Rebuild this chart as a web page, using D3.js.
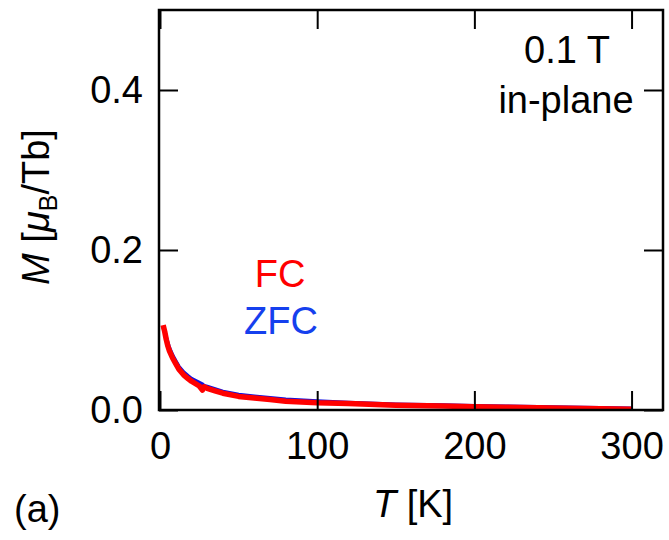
<!DOCTYPE html>
<html>
<head>
<meta charset="utf-8">
<script src="https://cdn.jsdelivr.net/npm/d3@7"></script>
<style>
  body { margin: 0; background: #fff; }
  text { font-family: "Liberation Sans", Arial, sans-serif; }
</style>
</head>
<body>
<script>
var width = 669
var height = 540
var margin = { top: 10, right: 6, bottom: 130, left: 159 }
var fontSize = 38

// temperature [K]
var temps = [2, 3, 4, 5, 6, 8, 10, 12, 15, 18, 20, 25, 27, 28, 30, 35, 40, 50, 60, 70, 80, 100, 120, 150, 180, 200, 220, 250, 280, 300]
// magnetization [muB/Tb]
var fcValues = [0.106, 0.098, 0.088, 0.080, 0.074, 0.065, 0.058, 0.051, 0.044, 0.039, 0.036, 0.030, 0.025, 0.029, 0.027, 0.024, 0.021, 0.017, 0.015, 0.013, 0.011, 0.009, 0.008, 0.006, 0.005, 0.004, 0.0035, 0.0025, 0.0015, 0.001]
var zfcValues = [0.104, 0.098, 0.090, 0.083, 0.077, 0.068, 0.061, 0.054, 0.047, 0.042, 0.039, 0.034, 0.032, 0.030, 0.029, 0.026, 0.023, 0.019, 0.017, 0.015, 0.013, 0.011, 0.009, 0.007, 0.006, 0.005, 0.0045, 0.0035, 0.0025, 0.002]

var xTicks = [0, 100, 200, 300]
var yTicks = [0.0, 0.2, 0.4]

var svg = d3.select('body').append('svg')
  .attr('width', width)
  .attr('height', height)

var x = d3.scaleLinear()
  .domain([0, 320])
  .range([160, 663])

var y = d3.scaleLinear()
  .domain([0, 0.5])
  .range([410, 10])

var line = d3.line()
  .x(d => x(d[0]))
  .y(d => y(d[1]))

// clip to plot frame
svg.append('clipPath').attr('id', 'clip')
  .append('rect')
  .attr('x', margin.left).attr('y', margin.top)
  .attr('width', width - margin.right - margin.left)
  .attr('height', height - margin.bottom - margin.top)

var plot = svg.append('g').attr('clip-path', 'url(#clip)')

plot.append('path')
  .attr('d', line(d3.zip(temps, zfcValues)))
  .attr('fill', 'none')
  .attr('stroke', '#1010e0')
  .attr('stroke-width', 4)

plot.append('path')
  .attr('d', line(d3.zip(temps, fcValues)))
  .attr('fill', 'none')
  .attr('stroke', '#ff0000')
  .attr('stroke-width', 5.5)
  .attr('stroke-linejoin', 'round')

var tickLen = 19

// axes: bottom + left with labels, top + right mirrored without labels
var xAxis = d3.axisBottom(x).tickValues(xTicks).tickSizeInner(-tickLen).tickSizeOuter(0).tickPadding(22)
var yAxis = d3.axisLeft(y).tickValues(yTicks).tickSizeInner(-tickLen).tickSizeOuter(0).tickPadding(16).tickFormat(d3.format('.1f'))

var gx = svg.append('g')
  .attr('transform', 'translate(0,410)')
  .call(xAxis)
var gy = svg.append('g')
  .attr('transform', 'translate(' + margin.left + ',0)')
  .call(yAxis)
var gxt = svg.append('g')
  .attr('transform', 'translate(0,' + margin.top + ')')
  .call(d3.axisTop(x).tickValues(xTicks).tickSizeInner(-tickLen).tickSizeOuter(0).tickFormat(''))
var gyr = svg.append('g')
  .attr('transform', 'translate(' + (width - margin.right) + ',0)')
  .call(d3.axisRight(y).tickValues(yTicks).tickSizeInner(-tickLen).tickSizeOuter(0).tickFormat(''))

;[gx, gy, gxt, gyr].forEach(g => {
  g.select('.domain').remove()
  g.selectAll('line').attr('stroke', '#000').attr('stroke-width', 2)
  g.selectAll('text').attr('font-size', fontSize).attr('fill', '#000').attr('font-family', '"Liberation Sans", Arial, sans-serif')
})

// frame
svg.append('rect')
  .attr('x', margin.left).attr('y', margin.top)
  .attr('width', width - margin.right - margin.left)
  .attr('height', height - margin.bottom - margin.top)
  .attr('fill', 'none')
  .attr('stroke', '#000')
  .attr('stroke-width', 2.5)

// annotations
svg.append('text').attr('x', 567).attr('y', 63).attr('text-anchor', 'middle')
  .attr('font-size', fontSize).text('0.1 T')
svg.append('text').attr('x', 566).attr('y', 113).attr('text-anchor', 'middle')
  .attr('font-size', fontSize).text('in-plane')

svg.append('text').attr('x', 280).attr('y', 287).attr('text-anchor', 'middle')
  .attr('font-size', fontSize).attr('fill', '#ff0000').text('FC')
svg.append('text').attr('x', 281).attr('y', 334).attr('text-anchor', 'middle')
  .attr('font-size', fontSize).attr('fill', '#1540ee').text('ZFC')

// axis titles
var xt = svg.append('text').attr('x', 413).attr('y', 517).attr('text-anchor', 'middle').attr('font-size', fontSize)
xt.append('tspan').attr('font-style', 'italic').text('T')
xt.append('tspan').text(' [K]')

var yt = svg.append('text')
  .attr('transform', 'translate(49,207) rotate(-90)')
  .attr('text-anchor', 'middle').attr('font-size', fontSize)
yt.append('tspan').attr('font-style', 'italic').text('M')
yt.append('tspan').text(' [')
yt.append('tspan').attr('font-style', 'italic').text('μ')
yt.append('tspan').attr('font-size', 25).attr('dy', 8).text('B')
yt.append('tspan').attr('dy', -8).text('/Tb]')

svg.append('text').attr('x', 14).attr('y', 522).attr('font-size', fontSize).text('(a)')
</script>
</body>
</html>
